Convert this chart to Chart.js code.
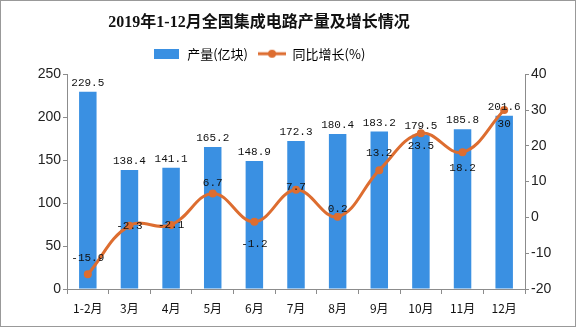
<!doctype html>
<html lang="zh">
<head>
<meta charset="utf-8">
<title>2019年1-12月全国集成电路产量及增长情况</title>
<script src="https://cdn.jsdelivr.net/npm/chart.js"></script>
<style>
  html, body { margin: 0; padding: 0; background: #fff; }
  #wrap { width: 576px; height: 327px; position: relative; }
</style>
</head>
<body>
<div id="wrap"><canvas id="chart"></canvas></div>
<script>
const months = ['1-2月', '3月', '4月', '5月', '6月', '7月', '8月', '9月', '10月', '11月', '12月']
const output = [229.5, 138.4, 141.1, 165.2, 148.9, 172.3, 180.4, 183.2, 179.5, 185.8, 201.6]
const growth = [-15.9, -2.3, -2.1, 6.7, -1.2, 7.7, 0.2, 13.2, 23.5, 18.2, 30]
const outputTicks = [0, 50, 100, 150, 200, 250]
const growthTicks = [-20, -10, 0, 10, 20, 30, 40]

// where each growth label sits relative to its point (px, + is below)
const growthLabelDy = [-16, 0, 0, -10, 22, -3, -8, -17, 13, 16, 14]

const BLUE = '#3A90E2'
const ORANGE = '#DD6D30'
const AXIS = '#8c8c8c'
const SANS = "'Liberation Sans', Arial, 'Noto Sans CJK SC', sans-serif"
const CJK = "'Noto Sans CJK SC', sans-serif"
const MONO = "'Liberation Mono', 'DejaVu Sans Mono', monospace"

function icon(w, h, draw) {
  const c = document.createElement('canvas')
  c.width = w
  c.height = h
  draw(c.getContext('2d'))
  return c
}

const barIcon = icon(25, 10, (g) => {
  g.fillStyle = BLUE
  g.fillRect(0, 0, 25, 10)
})

const lineIcon = icon(28, 10, (g) => {
  g.strokeStyle = ORANGE
  g.lineWidth = 3
  g.beginPath()
  g.moveTo(0, 5)
  g.lineTo(28, 5)
  g.stroke()
  g.fillStyle = ORANGE
  g.beginPath()
  g.arc(14, 5, 4, 0, Math.PI * 2)
  g.fill()
})

// title + legend sit a bit left of centre, with extra room under the legend
const header = {
  id: 'header',
  beforeLayout(chart) {
    const lg = chart.legend
    if (lg && !lg._patched) {
      const fit = lg.fit
      lg.fit = function () {
        fit.call(this)
        this.height += 4
      }
      lg._patched = true
    }
  },
  afterLayout(chart) {
    for (const box of [chart.titleBlock, chart.legend]) {
      if (!box) continue
      box.left -= 29
      box.right -= 29
    }
  }
}

const frame = {
  id: 'frame',
  beforeDraw(chart) {
    const ctx = chart.ctx
    ctx.save()
    ctx.fillStyle = '#fff'
    ctx.fillRect(0, 0, chart.width, chart.height)
    ctx.restore()
  },
  afterDraw(chart) {
    const ctx = chart.ctx
    ctx.save()
    ctx.strokeStyle = '#999'
    ctx.lineWidth = 1
    ctx.strokeRect(0.5, 0.5, chart.width - 1, chart.height - 1)
    ctx.restore()
  }
}

const valueLabels = {
  id: 'valueLabels',
  afterDatasetsDraw(chart) {
    const ctx = chart.ctx
    ctx.save()
    ctx.fillStyle = '#111'
    ctx.font = '11px ' + MONO
    ctx.textAlign = 'center'
    ctx.textBaseline = 'middle'
    chart.getDatasetMeta(0).data.forEach((bar, i) => {
      ctx.fillText(output[i].toFixed(1), bar.x, bar.y - 9)
    })
    chart.getDatasetMeta(1).data.forEach((pt, i) => {
      ctx.fillText(String(growth[i]), pt.x, pt.y + growthLabelDy[i])
    })
    ctx.restore()
  }
}

const fixWidth = (w) => (scale) => { scale.width = w }

new Chart(document.getElementById('chart'), {
  data: {
    labels: months,
    datasets: [
      {
        type: 'bar',
        label: '产量(亿块)',
        data: output,
        backgroundColor: BLUE,
        yAxisID: 'y',
        order: 2,
        categoryPercentage: 1,
        barPercentage: 0.42
      },
      {
        type: 'line',
        label: '同比增长(%)',
        data: growth,
        borderColor: ORANGE,
        backgroundColor: ORANGE,
        borderWidth: 3,
        pointRadius: 4,
        pointBorderWidth: 0,
        tension: 0.4,
        yAxisID: 'y1',
        order: 1
      }
    ]
  },
  options: {
    responsive: true,
    maintainAspectRatio: false,
    animation: false,
    layout: { padding: { left: 0, right: 0, top: 0, bottom: 0 } },
    plugins: {
      tooltip: { enabled: false },
      title: {
        display: true,
        text: '2019年1-12月全国集成电路产量及增长情况',
        color: '#111',
        font: { family: "'Liberation Serif', 'Noto Sans CJK SC', serif", size: 16, weight: 'bold' },
        padding: { top: 13, bottom: 5 }
      },
      legend: {
        display: true,
        labels: {
          usePointStyle: true,
          pointStyleWidth: 28,
          boxHeight: 10,
          padding: 10,
          color: '#222',
          font: { family: CJK, size: 13 },
          generateLabels: () => [
            { text: '产量(亿块)', pointStyle: barIcon, fillStyle: BLUE, strokeStyle: BLUE, lineWidth: 0, datasetIndex: 0 },
            { text: '同比增长(%)', pointStyle: lineIcon, fillStyle: ORANGE, strokeStyle: ORANGE, lineWidth: 0, datasetIndex: 1 }
          ]
        }
      }
    },
    scales: {
      x: {
        offset: true,
        grid: { drawOnChartArea: false, offset: true, color: AXIS, tickLength: 5 },
        border: { color: AXIS },
        ticks: { color: '#111', font: { family: CJK, size: 12 }, padding: 7, maxRotation: 0 },
        afterFit: (scale) => { scale.height = 38 }
      },
      y: {
        position: 'left',
        min: outputTicks[0],
        max: outputTicks[outputTicks.length - 1],
        afterBuildTicks: (scale) => { scale.ticks = outputTicks.map((v) => ({ value: v })) },
        grid: { drawOnChartArea: false, color: AXIS, tickLength: 4 },
        border: { color: AXIS },
        ticks: { color: '#222', font: { family: SANS, size: 14 }, padding: 2 },
        afterFit: fixWidth(67)
      },
      y1: {
        position: 'right',
        min: growthTicks[0],
        max: growthTicks[growthTicks.length - 1],
        afterBuildTicks: (scale) => { scale.ticks = growthTicks.map((v) => ({ value: v })) },
        grid: { drawOnChartArea: false, color: AXIS, tickLength: 4 },
        border: { color: AXIS },
        ticks: { color: '#222', font: { family: SANS, size: 14 }, padding: 2 },
        afterFit: fixWidth(51)
      }
    }
  },
  plugins: [header, frame, valueLabels]
})
</script>
</body>
</html>
